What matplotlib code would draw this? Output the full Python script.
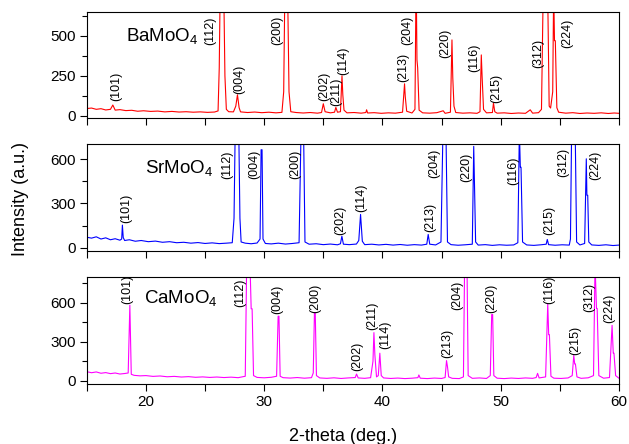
import matplotlib
matplotlib.use('Agg')
import matplotlib.pyplot as plt
import numpy as np

plt.rcParams['font.family'] = ['Liberation Sans', 'DejaVu Sans']
plt.rcParams['mathtext.fontset'] = 'custom'
plt.rcParams['mathtext.rm'] = 'Liberation Sans'
plt.rcParams['mathtext.default'] = 'regular'

# traced vertices (2-theta, intensity) of each pattern
ba_pts = [(15.0, 45), (15.4, 48), (15.8, 40), (16.2, 44), (16.6, 36), (17.0, 40), (17.2, 67), (17.4, 35),
          (17.8, 38), (18.3, 32), (18.8, 34), (19.3, 28), (19.8, 31), (20.4, 27), (21.0, 29), (21.6, 24),
          (22.2, 27), (22.8, 23), (23.4, 25), (24.0, 22), (24.6, 24), (25.2, 21), (25.8, 23), (26.1, 30),
          (26.2, 300), (26.28, 800), (26.58, 800), (26.68, 250), (26.8, 40), (27.0, 25), (27.4, 24),
          (27.6, 60), (27.74, 131), (27.88, 50), (28.0, 24), (28.6, 20), (29.2, 23), (29.8, 19), (30.4, 22),
          (31.0, 18), (31.5, 21), (31.65, 150), (31.75, 800), (31.98, 800), (32.1, 150), (32.25, 25),
          (32.7, 20), (33.3, 17), (33.9, 20), (34.5, 16), (34.85, 20), (35.0, 75), (35.15, 25), (35.6, 18),
          (35.95, 22), (36.06, 52), (36.2, 22), (36.45, 25), (36.58, 250), (36.65, 131), (36.75, 35),
          (37.0, 18), (37.6, 20), (38.2, 16), (38.6, 20), (38.66, 37), (38.75, 17), (39.3, 19), (39.9, 15),
          (40.5, 18), (41.1, 16), (41.7, 22), (41.87, 200), (41.93, 120), (42.05, 28), (42.5, 17),
          (42.75, 40), (42.85, 900), (42.92, 350), (42.98, 300), (43.1, 35), (43.4, 18), (44.0, 16),
          (44.6, 19), (45.14, 31), (45.3, 15), (45.75, 22), (45.88, 475), (45.95, 237), (46.05, 60),
          (46.2, 20), (46.8, 16), (47.4, 18), (48.0, 15), (48.25, 25), (48.36, 381), (48.43, 244),
          (48.55, 40), (48.8, 18), (49.3, 20), (49.39, 79), (49.5, 25), (49.7, 16), (50.3, 18), (50.9, 14),
          (51.5, 17), (52.1, 15), (52.5, 37), (52.7, 16), (53.2, 19), (53.45, 40), (53.6, 800), (53.97, 800),
          (54.1, 60), (54.22, 48), (54.4, 150), (54.48, 800), (54.55, 470), (54.62, 470), (54.75, 50),
          (54.9, 22), (55.5, 16), (56.1, 19), (56.7, 14), (57.3, 17), (57.9, 15), (58.5, 18), (59.1, 14),
          (59.6, 17), (60.0, 15)]

sr_pts = [(15.0, 72), (15.4, 66), (15.8, 75), (16.2, 60), (16.6, 68), (17.0, 55), (17.4, 62), (17.8, 52),
          (17.95, 60), (18.01, 154), (18.08, 70), (18.2, 50), (18.6, 55), (19.1, 45), (19.6, 50), (20.2, 42),
          (20.8, 46), (21.4, 38), (22.0, 42), (22.6, 35), (23.2, 38), (23.8, 32), (24.4, 36), (25.0, 30),
          (25.6, 34), (26.2, 29), (26.8, 32), (27.3, 35), (27.45, 200), (27.55, 800), (27.85, 800),
          (27.95, 200), (28.05, 40), (28.4, 32), (28.9, 28), (29.4, 33), (29.65, 60), (29.74, 663),
          (29.82, 663), (29.9, 60), (30.1, 30), (30.6, 27), (31.2, 32), (31.8, 26), (32.4, 30), (32.95, 35),
          (33.12, 800), (33.33, 800), (33.45, 40), (33.8, 25), (34.4, 28), (35.0, 22), (35.6, 26), (36.2, 21),
          (36.45, 28), (36.57, 79), (36.7, 25), (37.2, 22), (37.8, 26), (38.0, 50), (38.15, 226), (38.3, 45),
          (38.5, 22), (39.1, 25), (39.7, 20), (40.3, 24), (40.9, 19), (41.5, 23), (42.1, 18), (42.7, 22),
          (43.3, 19), (43.75, 25), (43.87, 91), (44.0, 25), (44.5, 20), (44.95, 40), (45.12, 800),
          (45.37, 800), (45.5, 40), (45.8, 22), (46.4, 18), (47.0, 21), (47.6, 25), (47.72, 686),
          (47.78, 448), (47.88, 40), (48.1, 19), (48.7, 22), (49.3, 17), (49.9, 21), (50.5, 18), (51.1, 20),
          (51.45, 35), (51.58, 800), (51.66, 545), (51.72, 545), (51.85, 40), (52.2, 20), (52.8, 17),
          (53.4, 21), (53.85, 25), (53.94, 57), (54.05, 22), (54.6, 18), (55.2, 21), (55.8, 19), (55.9, 60),
          (56.0, 800), (56.3, 800), (56.42, 40), (56.7, 20), (57.1, 30), (57.24, 602), (57.29, 356),
          (57.36, 356), (57.45, 40), (57.7, 20), (58.3, 17), (58.9, 21), (59.5, 16), (60.0, 19)]

ca_pts = [(15.0, 70), (15.4, 62), (15.8, 68), (16.2, 58), (16.6, 63), (17.0, 55), (17.4, 60), (17.8, 52),
          (18.2, 56), (18.5, 60), (18.64, 581), (18.76, 50), (19.0, 42), (19.5, 38), (20.0, 40), (20.6, 34),
          (21.2, 37), (21.8, 31), (22.4, 34), (23.0, 29), (23.6, 32), (24.2, 27), (24.8, 30), (25.4, 26),
          (26.0, 29), (26.6, 25), (27.2, 28), (27.8, 24), (28.4, 35), (28.52, 900), (28.8, 900), (28.9, 553),
          (28.98, 553), (29.1, 40), (29.4, 26), (30.0, 23), (30.6, 27), (31.05, 35), (31.18, 496),
          (31.25, 496), (31.35, 35), (31.6, 24), (32.2, 21), (32.8, 25), (33.4, 20), (34.0, 24), (34.15, 60),
          (34.25, 519), (34.32, 519), (34.42, 40), (34.7, 22), (35.3, 19), (35.9, 23), (36.5, 18), (37.1, 22),
          (37.7, 25), (37.81, 52), (37.95, 22), (38.5, 19), (39.0, 24), (39.2, 150), (39.28, 370),
          (39.36, 200), (39.5, 30), (39.65, 40), (39.78, 212), (39.9, 40), (40.1, 22), (40.7, 18), (41.3, 21),
          (41.9, 17), (42.5, 20), (43.0, 24), (43.08, 45), (43.2, 20), (43.8, 17), (44.4, 21), (45.0, 18),
          (45.3, 25), (45.42, 155), (45.5, 109), (45.6, 30), (45.9, 19), (46.5, 17), (46.85, 30),
          (46.95, 900), (47.15, 900), (47.25, 40), (47.6, 19), (48.2, 22), (48.8, 18), (49.12, 40),
          (49.24, 509), (49.32, 509), (49.42, 40), (49.7, 20), (50.3, 17), (50.9, 21), (51.5, 18), (52.1, 22),
          (52.7, 19), (53.0, 25), (53.12, 57), (53.25, 22), (53.8, 30), (53.98, 592), (54.06, 354),
          (54.12, 354), (54.25, 35), (54.5, 20), (55.1, 18), (55.7, 22), (56.05, 40), (56.18, 194),
          (56.26, 129), (56.32, 129), (56.45, 30), (56.8, 19), (57.4, 23), (57.85, 40), (57.98, 900),
          (58.1, 556), (58.16, 556), (58.3, 40), (58.7, 20), (59.2, 25), (59.42, 426), (59.52, 212),
          (59.58, 212), (59.72, 40), (60.0, 20)]

# peak labels: (text, x, y of label bottom)
ba_labels = [('(101)', 17.5, 90), ('(112)', 25.46, 444), ('(004)', 27.86, 136), ('(200)', 31.1, 444),
             ('(202)', 35.05, 90), ('(211)', 36.06, 62), ('(114)', 36.68, 256), ('(213)', 41.75, 214),
             ('(204)', 42.12, 444), ('(220)', 45.34, 360), ('(116)', 47.76, 271), ('(215)', 49.65, 79),
             ('(312)', 53.17, 298), ('(224)', 55.63, 423)]
sr_labels = [('(101)', 18.35, 170), ('(112)', 26.9, 464), ('(004)', 29.13, 464), ('(200)', 32.6, 464),
             ('(202)', 36.4, 86), ('(114)', 38.23, 244), ('(213)', 44.01, 109), ('(204)', 44.35, 471),
             ('(220)', 47.12, 448), ('(116)', 51.06, 425), ('(215)', 54.1, 86), ('(312)', 55.28, 482),
             ('(224)', 57.97, 459)]
ca_labels = [('(101)', 18.43, 592), ('(112)', 28.0, 566), ('(004)', 31.13, 515), ('(200)', 34.29, 522),
             ('(202)', 37.89, 75), ('(211)', 39.16, 388), ('(114)', 40.2, 246), ('(213)', 45.51, 174),
             ('(204)', 46.36, 540), ('(220)', 49.17, 522), ('(116)', 54.1, 587), ('(215)', 56.28, 199),
             ('(312)', 57.49, 530), ('(224)', 59.16, 445)]

names = ['BaMoO$_4$', 'SrMoO$_4$', 'CaMoO$_4$']
colors = ['#ff0000', '#0000ff', '#ff00ff']
ylims = [(-15, 650), (-20, 700), (-25, 800)]
yticks = [[0, 250, 500], [0, 300, 600], [0, 300, 600]]
yminor = [[125, 375, 625], [150, 450], [150, 450, 750]]
xticks = [15, 20, 25, 30, 35, 40, 45, 50, 55, 60]

fig = plt.figure(figsize=(6.29, 4.44), dpi=100)
boxes = [[0.138, 0.734, 0.846, 0.239],
         [0.138, 0.435, 0.846, 0.240],
         [0.138, 0.135, 0.846, 0.242]]
name_pos = [(0.073, 0.77), (0.109, 0.78), (0.107, 0.80)]

for i, (pts, labs) in enumerate(zip([ba_pts, sr_pts, ca_pts], [ba_labels, sr_labels, ca_labels])):
    ax = fig.add_axes(boxes[i])
    arr = np.array(pts)
    ax.plot(arr[:, 0], arr[:, 1], color=colors[i], lw=0.8)
    ax.set_xlim(15, 60)
    ax.set_ylim(*ylims[i])
    ax.set_yticks(yticks[i])
    ax.set_yticks(yminor[i], minor=True)
    ax.set_xticks(xticks)
    if i == 2:
        ax.set_xticklabels(['' if t % 10 else str(t) for t in xticks])
    else:
        ax.set_xticklabels([])
    ax.tick_params(direction='out', length=5, width=0.8, labelsize=11, pad=3)
    ax.tick_params(which='minor', direction='out', length=3.5, width=0.8)
    for s in ax.spines.values():
        s.set_linewidth(0.8)
    for t, x, y in labs:
        ax.text(x, y, t, rotation=90, ha='center', va='bottom', fontsize=9)
    ax.text(name_pos[i][0], name_pos[i][1], names[i], transform=ax.transAxes,
            ha='left', va='center', fontsize=13.5)

fig.text(0.032, 0.552, 'Intensity (a.u.)', rotation=90, ha='center', va='center', fontsize=13)
fig.text(0.545, 0.018, '2-theta (deg.)', ha='center', va='center', fontsize=13)

fig.savefig('out.png', dpi=100)
